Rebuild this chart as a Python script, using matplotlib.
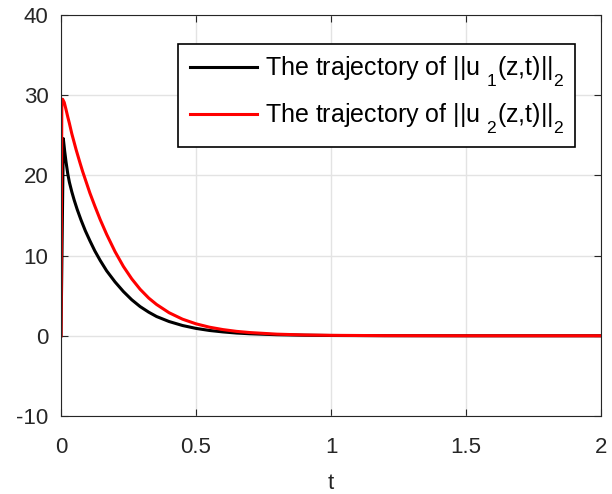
import matplotlib
matplotlib.use('Agg')
import matplotlib.pyplot as plt

plt.rcParams['font.family'] = ['Liberation Sans', 'DejaVu Sans']
plt.rcParams['axes.unicode_minus'] = False
plt.rcParams['mathtext.fontset'] = 'custom'
plt.rcParams['mathtext.rm'] = 'Liberation Sans'
plt.rcParams['mathtext.default'] = 'regular'
# indices plus bas, comme sur la figure d'origine
try:
    from matplotlib import _mathtext
    _mathtext.FontConstantsBase.sub1 = 0.8
    _mathtext.FontConstantsBase.sub2 = 0.9
except Exception:
    pass

# valeurs
t1 = [0, 0.0085, 0.0135, 0.0185, 0.025, 0.031, 0.04, 0.049, 0.06, 0.074, 0.09,
      0.107, 0.125, 0.145, 0.169, 0.2, 0.231, 0.262, 0.293, 0.325, 0.354, 0.4,
      0.45, 0.5, 0.55, 0.6, 0.65, 0.7, 0.8, 0.9, 1.0, 1.2, 1.5, 2.0]
u1 = [0, 24.6, 23.05, 21.7, 20.2, 19.15, 17.95, 16.9, 15.75, 14.45, 13.1,
      11.85, 10.6, 9.4, 8.1, 6.72, 5.52, 4.49, 3.64, 2.94, 2.4, 1.78,
      1.28, 0.92, 0.66, 0.48, 0.34, 0.25, 0.13, 0.07, 0.035, 0.01, 0, 0]
t2 = [0, 0.003, 0.006, 0.012, 0.018, 0.025, 0.031, 0.04, 0.056, 0.07, 0.08,
      0.095, 0.107, 0.125, 0.145, 0.169, 0.2, 0.231, 0.262, 0.293, 0.325,
      0.354, 0.4, 0.45, 0.5, 0.55, 0.6, 0.65, 0.7, 0.8, 0.9, 1.0, 1.2, 1.5, 2.0]
u2 = [0, 29.2, 29.5, 29.1, 28.3, 27.3, 26.5, 25.2, 23.2, 21.6, 20.5,
      19.0, 17.8, 16.2, 14.5, 12.65, 10.5, 8.65, 7.1, 5.8, 4.7,
      3.9, 2.88, 2.07, 1.49, 1.07, 0.77, 0.55, 0.4, 0.2, 0.105, 0.055, 0.015, 0, 0]
xticks = [0, 0.5, 1, 1.5, 2]
yticks = [-10, 0, 10, 20, 30, 40]

fig = plt.figure(figsize=(6.12, 4.94), dpi=100)
ax = fig.add_axes([0.0997, 0.158, 0.8823, 0.8115])
ax.plot(t1, u1, color='black', lw=2.2,
        label='The trajectory of ||u $_1$(z,t)||$_2$')
ax.plot(t2, u2, color='red', lw=2.2,
        label='The trajectory of ||u $_2$(z,t)||$_2$')
ax.set_xlim(0, 2)
ax.set_ylim(-10, 40)
ax.set_xticks(xticks)
ax.set_xticklabels(['0', '0.5', '1', '1.5', '2'])
ax.set_yticks(yticks)
ax.grid(True, color='#e3e3e3', lw=1)
ax.set_axisbelow(True)
ax.tick_params(direction='in', top=True, right=True, labelsize=16,
               colors='#262626', length=5)
ax.tick_params(axis='x', pad=15)
ax.tick_params(axis='y', pad=9)
for s in ax.spines.values():
    s.set_color('#262626')
ax.set_xlabel('t', fontsize=16, color='#262626', labelpad=11)
leg = ax.legend(loc='upper right', bbox_to_anchor=(0.952, 0.928), fontsize=18,
                fancybox=False, edgecolor='black', framealpha=1,
                handlelength=2.7, handletextpad=0.3, borderpad=0.45,
                labelspacing=0.5, borderaxespad=0)
leg.get_frame().set_linewidth(1.2)
fig.savefig('out.png', dpi=100)
